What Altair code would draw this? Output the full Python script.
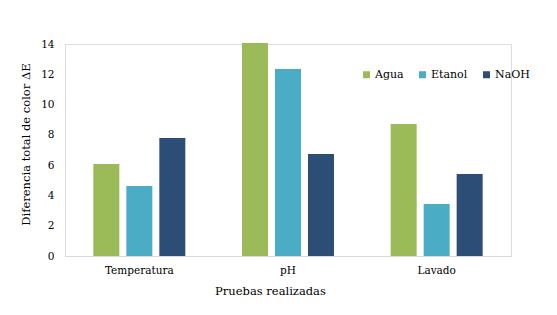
import altair as alt
import pandas as pd

pruebas = ["Temperatura", "pH", "Lavado"]
series = ["Agua", "Etanol", "NaOH"]
agua = [6.08, 14.07, 8.72]
etanol = [4.62, 12.35, 3.43]
naoh = [7.79, 6.74, 5.42]
colors = ["#9BBB59", "#4BACC6", "#2C4D75"]

rows = []
for i, p in enumerate(pruebas):
    for s, vals in zip(series, [agua, etanol, naoh]):
        rows.append({"Prueba": p, "Serie": s, "Valor": vals[i]})
df = pd.DataFrame(rows)

font = "DejaVu Serif"

chart = alt.Chart(df).mark_bar().encode(
    x=alt.X("Prueba:N", sort=pruebas,
            scale=alt.Scale(paddingInner=0, paddingOuter=0),
            axis=alt.Axis(title="Pruebas realizadas", labelAngle=0, ticks=False,
                          domainColor="#D9D9D9", domainWidth=1,
                          labelFont=font, labelFontSize=10.5, labelColor="#000000",
                          labelPadding=9,
                          titleFont=font, titleFontSize=11.5, titleFontWeight="normal",
                          titleColor="#000000", titlePadding=10, titleX=205)),
    xOffset=alt.XOffset("Serie:N", sort=series,
                        scale=alt.Scale(paddingInner=0.212, paddingOuter=0.859)),
    y=alt.Y("Valor:Q",
            scale=alt.Scale(domain=[0, 14], nice=False),
            axis=alt.Axis(title="Diferencia total de color ΔE", values=[0, 2, 4, 6, 8, 10, 12, 14],
                          grid=False, domain=False, ticks=False,
                          labelFont=font, labelFontSize=10.5, labelColor="#000000",
                          labelPadding=11,
                          titleFont=font, titleFontSize=11.5, titleFontWeight="normal",
                          titleColor="#000000", titlePadding=9, titleY=100)),
    color=alt.Color("Serie:N", sort=series,
                    scale=alt.Scale(domain=series, range=colors),
                    legend=alt.Legend(title=None, orient="none", direction="horizontal",
                                      legendX=296, legendY=25,
                                      symbolType="square", symbolSize=49,
                                      symbolStrokeWidth=0, symbolOpacity=1,
                                      labelFont=font, labelFontSize=11, labelColor="#000000",
                                      labelOffset=3, columnPadding=13)),
).properties(
    width=446, height=212,
    autosize=alt.AutoSizeParams(type="none"),
    padding={"left": 65, "top": 44, "right": 46, "bottom": 59},
).configure_view(stroke=None).configure(background="white", font=font)

chart.save("out.html", embed_options={"renderer": "svg", "actions": False})
